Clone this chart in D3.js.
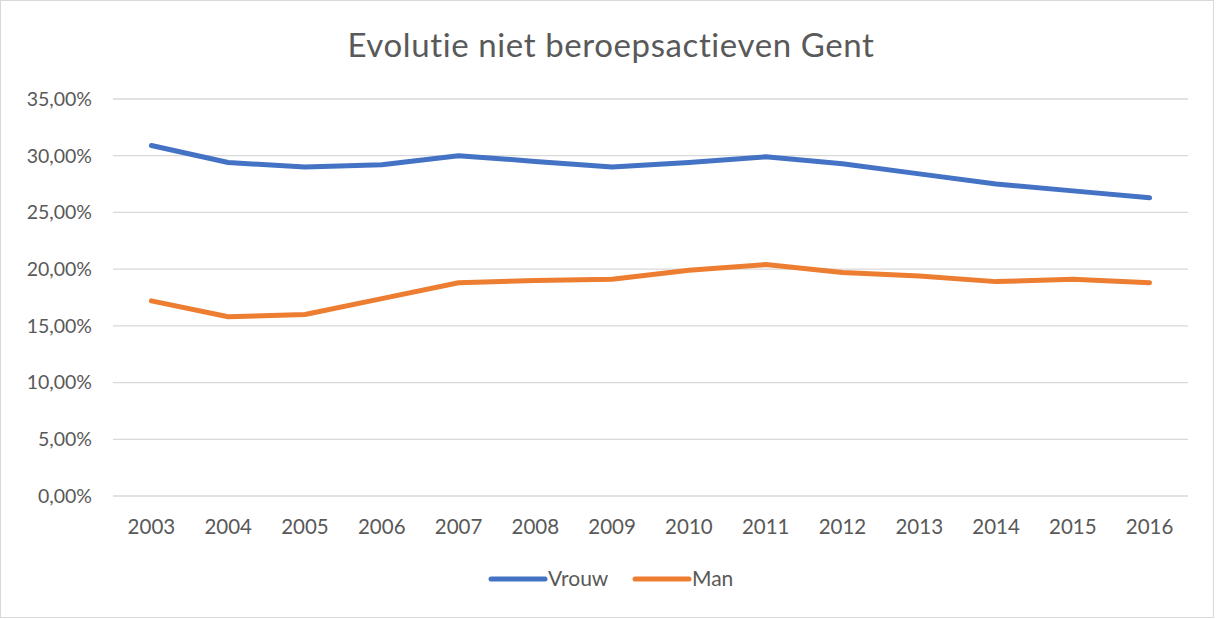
<!DOCTYPE html>
<html>
<head>
<script src="https://d3js.org/d3.v7.min.js"></script>
<title>Evolutie niet beroepsactieven Gent</title>
<style type="text/css">
body {
  margin: 0;
  background: #fff;
}
svg text {
  font-family: Lato, "Open Sans", sans-serif;
  fill: #595959;
}
.grid line {
  stroke: #d9d9d9;
  stroke-width: 1.3;
}
</style>
</head>
<body>
<svg id="chart"></svg>
<script>
var years = ["2003", "2004", "2005", "2006", "2007", "2008", "2009", "2010", "2011", "2012", "2013", "2014", "2015", "2016"];
var vrouw = [30.9, 29.4, 29.0, 29.2, 30.0, 29.5, 29.0, 29.4, 29.9, 29.3, 28.4, 27.5, 26.9, 26.3];
var man = [17.2, 15.8, 16.0, 17.4, 18.8, 19.0, 19.1, 19.9, 20.4, 19.7, 19.4, 18.9, 19.1, 18.8];
var yTicks = [0, 5, 10, 15, 20, 25, 30, 35];
var seriesNames = ["Vrouw", "Man"];
var colors = ["#4472C4", "#ED7D31"];

var width = 1216, height = 619;
var margin = {top: 99, right: 28, bottom: 123, left: 113};

var svg = d3.select("#chart")
  .attr("width", width)
  .attr("height", height);

// outer frame
svg.append("rect")
  .attr("x", 0.5).attr("y", 0.5)
  .attr("width", width - 3).attr("height", height - 2)
  .attr("fill", "#fff")
  .attr("stroke", "#d9d9d9");

svg.append("text")
  .attr("x", 611)
  .attr("y", 57)
  .attr("text-anchor", "middle")
  .style("font-size", "33px")
  .style("letter-spacing", "0.6px")
  .text("Evolutie niet beroepsactieven Gent");

var x = d3.scaleBand()
  .domain(years)
  .range([margin.left, width - margin.right]);

var y = d3.scaleLinear()
  .domain([0, 35])
  .range([height - margin.bottom, margin.top]);

var fmt = function(d) { return d3.format(".2f")(d).replace(".", ",") + "%"; };

// gridlines
svg.append("g")
  .attr("class", "grid")
  .selectAll("line")
  .data(yTicks)
  .enter().append("line")
  .attr("x1", margin.left)
  .attr("x2", width - margin.right)
  .attr("y1", function(d) { return y(d); })
  .attr("y2", function(d) { return y(d); });

// y labels
svg.append("g")
  .selectAll("text")
  .data(yTicks)
  .enter().append("text")
  .attr("x", 92)
  .attr("y", function(d) { return y(d); })
  .attr("dy", "0.35em")
  .attr("text-anchor", "end")
  .style("font-size", "19.5px")
  .text(fmt);

// x labels
svg.append("g")
  .selectAll("text")
  .data(years)
  .enter().append("text")
  .attr("x", function(d) { return x(d) + x.bandwidth() / 2; })
  .attr("y", height - margin.bottom + 31)
  .attr("dy", "0.35em")
  .attr("text-anchor", "middle")
  .style("font-size", "20.5px")
  .text(function(d) { return d; });

var line = d3.line()
  .x(function(d, i) { return x(years[i]) + x.bandwidth() / 2; })
  .y(function(d) { return y(d); });

[vrouw, man].forEach(function(s, i) {
  svg.append("path")
    .datum(s)
    .attr("d", line)
    .attr("fill", "none")
    .attr("stroke", colors[i])
    .attr("stroke-width", 5)
    .attr("stroke-linecap", "round")
    .attr("stroke-linejoin", "round");
});

// legend
var legendX = [491, 635];
var legend = svg.append("g");
seriesNames.forEach(function(name, i) {
  legend.append("line")
    .attr("x1", legendX[i]).attr("x2", legendX[i] + 54)
    .attr("y1", 579).attr("y2", 579)
    .attr("stroke", colors[i])
    .attr("stroke-width", 5)
    .attr("stroke-linecap", "round");
  legend.append("text")
    .attr("x", legendX[i] + 57)
    .attr("y", 579)
    .attr("dy", "0.35em")
    .style("font-size", "21px")
    .text(name);
});
</script>
</body>
</html>
